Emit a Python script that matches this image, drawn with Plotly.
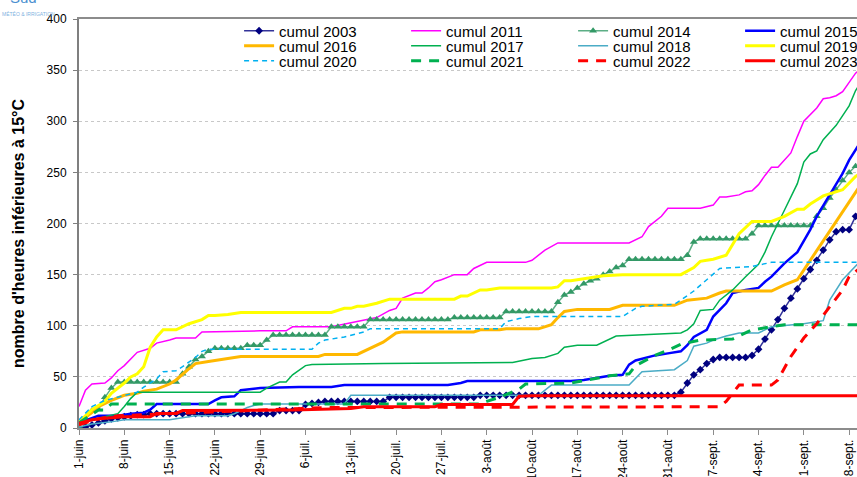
import plotly.graph_objects as go

# ---------------- data ----------------
tick_days = [0, 7, 14, 21, 28, 35, 42, 49, 56, 63, 70, 77, 84, 91, 98, 105, 112, 119]
tick_labels = ["1-juin", "8-juin", "15-juin", "22-juin", "29-juin", "6-juil.", "13-juil.",
               "20-juil.", "27-juil.", "3-août", "10-août", "17-août", "24-août", "31-août",
               "7-sept.", "14-sept.", "21-sept.", "28-sept."]

days_daily = list(range(122))

cumul_2003 = ([0, 1, 3, 5, 7, 9, 10, 11, 12, 13, 13] + [14] * 20 + [17] * 4 + [23, 24, 25]
              + [26] * 10 + [30] * 14 + [32] * 31 + [35, 44, 52, 57, 63, 67] + [69] * 5
              + [71, 77, 87, 96, 106, 117, 127, 136, 146, 155, 164, 174, 184, 192, 194, 194, 207, 215])

cumul_2014 = ([2, 8, 17, 18, 30, 39, 45] + [45] * 9 + [53, 60, 67, 70, 75] + [78] * 5 + [81] * 3
              + [86] + [91] * 9 + [99] * 6 + [106] * 13 + [108] * 8 + [114] * 8
              + [123, 130, 133, 137, 141, 144, 146, 150, 153, 157, 159] + [165] * 9 + [169, 182]
              + [185] * 8 + [190] + [198] * 9 + [207, 215, 225, 233, 242, 250, 256, 257])

days_2011 = [0, 1, 2, 4, 5, 6, 7, 9, 11, 12, 14, 15, 18, 19, 28, 32, 33, 39, 46, 48, 49, 50, 52, 53,
             54, 55, 56, 58, 60, 61, 63, 69, 70, 72, 74, 85, 87, 88, 90, 91, 96, 98, 99, 100, 102,
             103, 104, 105, 106, 107, 108, 110, 111, 112, 114, 115, 116, 117, 118, 119, 120, 121]
vals_2011 = [21, 37, 43, 44, 49, 56, 61, 74, 78, 83, 86, 88, 88, 94, 95, 95, 99, 99, 108, 115, 117,
             127, 132, 132, 137, 143, 145, 150, 150, 156, 162, 162, 164, 174, 181, 181, 187, 197, 207,
             215, 215, 218, 226, 226, 228, 231, 232, 238, 247, 255, 255, 269, 285, 300, 313, 322,
             323, 325, 329, 338, 347, 352]

days_2015 = [0, 2, 3, 6, 8, 10, 11, 12, 20, 21, 22, 24, 25, 28, 34, 39, 41, 57, 59, 60, 76, 78, 82,
             84, 85, 86, 89, 91, 93, 94, 95, 97, 98, 100, 101, 103, 105, 106, 107, 109, 111, 113,
             114, 116, 118, 119, 120, 121]
vals_2015 = [5, 10, 12, 12, 14, 15, 18, 23.5, 23.5, 27, 30, 31, 37, 39, 40, 40, 42, 42, 44, 46, 46,
             47, 51, 52, 62, 66, 71, 73, 75, 81, 89, 96, 109, 122, 132, 135, 137, 143, 148, 161, 172,
             194, 207, 228, 249, 262, 272, 282]

days_2016 = [0, 2, 3, 5, 7, 9, 10, 12, 14, 15, 17, 18, 20, 21, 23, 25, 37, 38, 43, 45, 47, 49, 50,
             61, 62, 65, 66, 71, 73, 74, 75, 77, 82, 84, 92, 94, 97, 99, 100, 107, 108, 109, 111,
             113, 115, 117, 119, 120, 121]
vals_2016 = [6, 15, 21, 27, 32, 34, 36, 38, 43, 47, 58, 63, 65, 66, 68, 70, 70, 72, 72, 78, 84, 93,
             94, 94, 96, 96, 97, 97, 101, 108, 114, 116, 116, 120, 120, 125, 127, 132, 134, 134,
             137, 140, 145, 164, 184, 203, 222, 231, 240]

days_2017 = [0, 2, 4, 6, 7, 8, 9, 28, 29, 31, 32, 33, 35, 36, 47, 67, 70, 72, 74, 75, 77, 80, 83,
             93, 94, 95, 96, 98, 99, 101, 103, 105, 106, 107, 109, 111, 112, 113, 114, 115, 117,
             119, 120, 121]
vals_2017 = [4, 8, 11, 14, 21, 29, 35, 35, 39, 45, 45, 52, 61, 62, 63, 64, 68, 69, 73, 79, 81, 81,
             90, 93, 96, 102, 115, 116, 125, 135, 148, 160, 172, 187, 213, 239, 260, 268, 271, 282,
             296, 315, 330, 340]

days_2018 = [0, 2, 5, 7, 14, 16, 18, 23, 24, 25, 26, 27, 28, 41, 42, 71, 73, 85, 87, 92, 94, 95,
             97, 98, 100, 102, 105, 107, 112, 115, 116, 118, 120, 121]
vals_2018 = [1, 4, 6, 8, 8, 10, 12, 12, 14, 17, 20, 22, 23.5, 23.5, 32, 32, 42, 42, 55, 57, 66, 80,
             83, 86, 90, 93, 93, 99, 102, 105, 125, 145, 158, 165]

days_2019 = [0, 2, 4, 5, 7, 8, 9, 10, 11, 12, 13, 15, 17, 18, 19, 20, 21, 23, 25, 39, 41, 42, 43,
             44, 46, 48, 58, 59, 60, 62, 63, 65, 73, 74, 75, 76, 78, 81, 84, 93, 95, 96, 97, 98,
             100, 102, 104, 107, 109, 111, 112, 113, 115, 117, 118, 120, 121]
vals_2019 = [6, 18, 26, 34, 44, 50, 53, 60, 79, 89, 96, 96, 102, 104, 106, 110, 110, 111, 113, 113,
             117, 117, 119, 119, 122, 126, 126, 129, 129, 135, 135, 137, 137, 138, 144, 144, 146,
             149, 150, 150, 157, 163, 164, 165, 169, 190, 202, 202, 207, 214, 214, 219, 227, 231,
             233, 246, 250]

days_2020 = [0, 2, 4, 7, 9, 10, 12, 13, 15, 16, 18, 19, 20, 36, 37, 38, 41, 44, 45, 65, 66, 68, 70,
             84, 86, 87, 92, 93, 95, 97, 98, 99, 104, 106, 107, 121]
vals_2020 = [8, 21, 27, 32, 35, 40, 48, 55, 56, 60, 69, 75, 77, 77, 83, 86, 89, 94, 97, 97, 104,
             107, 109, 109, 117, 119, 121, 125, 134, 145, 151, 156, 158, 161, 162, 162]

days_2021 = [0, 2, 3, 4, 5, 62, 63, 65, 67, 68, 69, 76, 82, 85, 86, 89, 91, 93, 96, 101, 104, 107,
             109, 121]
vals_2021 = [5, 14, 17.6, 17.6, 23.5, 23.5, 26, 30, 35, 38, 43, 44, 51, 53, 61, 71, 76, 82, 86, 87,
             96, 99, 101, 101]

days_2022 = [0, 3, 6, 10, 14, 22, 30, 38, 99, 100, 101, 102, 107, 108, 110, 112, 114, 116, 118,
             119, 121]
vals_2022 = [3, 9, 12, 13, 14, 16, 18, 20, 20.8, 26, 34, 42, 42, 47, 70, 88, 102, 119, 135, 148, 158]

days_2023 = [0, 2, 4, 7, 11, 12, 15, 16, 33, 42, 44, 55, 56, 67, 68, 70, 121]
vals_2023 = [4.6, 8, 9.5, 11, 11, 14.3, 14.3, 17, 17.6, 19, 20.8, 20.8, 23, 23, 31, 31.6, 31.6]

# ---------------- figure ----------------
FONT = "Arial, 'Liberation Sans', sans-serif"
fig = go.Figure()

def add(name, x, y, color, width, dash="solid", marker=None, legend="legend", lcolor=None, msize=6):
    kw = dict(x=x, y=y, name=name, legend=legend,
              line=dict(color=lcolor or color, width=width, dash=dash))
    if marker:
        kw["mode"] = "lines+markers"
        kw["marker"] = dict(symbol=marker, size=msize, color=color)
    else:
        kw["mode"] = "lines"
    fig.add_trace(go.Scatter(**kw))

add("cumul 2003", days_daily, cumul_2003, "#000080", 1.5, marker="diamond", lcolor="#333399", msize=6)
add("cumul 2011", days_2011, vals_2011, "#FF00FF", 1.5)
add("cumul 2014", days_daily, cumul_2014, "#339966", 1.5, marker="triangle-up", lcolor="#5CAE85", msize=7)
add("cumul 2015", days_2015, vals_2015, "#0000FF", 2.5)
add("cumul 2016", days_2016, vals_2016, "#FFB800", 3, legend="legend2")
add("cumul 2017", days_2017, vals_2017, "#00B050", 1.5, legend="legend2")
add("cumul 2018", days_2018, vals_2018, "#4BACC6", 1.5, legend="legend2")
add("cumul 2019", days_2019, vals_2019, "#FFFF00", 3, legend="legend2")
add("cumul 2020", days_2020, vals_2020, "#00B0F0", 1.5, dash="5px,4px", legend="legend3")
add("cumul 2021", days_2021, vals_2021, "#00B050", 3, dash="10px,8px", legend="legend3")
add("cumul 2022", days_2022, vals_2022, "#FF0000", 3, dash="10px,8px", legend="legend3")
add("cumul 2023", days_2023, vals_2023, "#FF0000", 3, legend="legend3")

W, H = 920, 520
L, T = 79, 19
plot_w = 121.3 * 6.468
plot_h = 409
R = W - L - plot_w
B = H - T - plot_h

def leg(ypix):
    return dict(orientation="h", x=(239 - L) / plot_w, xanchor="left",
                y=(T + plot_h - ypix) / plot_h, yanchor="middle",
                entrywidth=122, entrywidthmode="pixels",
                bgcolor="rgba(0,0,0,0)", borderwidth=0,
                font=dict(family=FONT, size=15, color="#000000"),
                itemwidth=30, traceorder="normal")

fig.update_layout(
    width=W, height=H,
    margin=dict(l=L, r=R, t=T, b=B, autoexpand=False),
    paper_bgcolor="white", plot_bgcolor="white",
    font=dict(family=FONT, size=12, color="#000000"),
    showlegend=True,
    legend=leg(31), legend2=leg(46), legend3=leg(61),
    xaxis=dict(range=[0, 121.3], tickmode="array", tickvals=tick_days, ticktext=tick_labels,
               tickangle=-90, showgrid=False, zeroline=False, showline=True, linecolor="#8C8C8C",
               linewidth=1.5, mirror=True, ticks="outside", ticklen=5, tickcolor="#8C8C8C",
               automargin=False, tickfont=dict(family=FONT, size=12, color="#000000")),
    yaxis=dict(range=[0, 400], tickmode="array", tickvals=[0, 50, 100, 150, 200, 250, 300, 350, 400],
               showgrid=True, gridcolor="#C8C8C8", griddash="dot", gridwidth=1, zeroline=False,
               showline=True, linecolor="#7F7F7F", linewidth=2, ticks="outside", ticklen=4,
               tickcolor="#7F7F7F", automargin=False, ticklabelstandoff=4,
               tickfont=dict(family=FONT, size=12, color="#000000")),
    annotations=[
        dict(text="<b>nombre d'heures inférieures à 15°C</b>", xref="paper", yref="paper",
             x=(18 - L) / plot_w, y=(T + plot_h - 233) / plot_h, xanchor="center", yanchor="middle",
             textangle=-90, showarrow=False, font=dict(family=FONT, size=16, color="#000000")),
        dict(text="Sud", xref="paper", yref="paper", x=(8 - L) / plot_w, y=(T + plot_h - 8) / plot_h,
             xanchor="left", yanchor="bottom", showarrow=False,
             font=dict(family=FONT, size=15, color="#4A8FD0")),
        dict(text="MÉTÉO & IRRIGATION", xref="paper", yref="paper", x=(0 - L) / plot_w,
             y=(T + plot_h - 14) / plot_h, xanchor="left", yanchor="middle", showarrow=False,
             font=dict(family=FONT, size=5, color="#7FB2E0")),
    ],
)

fig.write_html("out.html", config={"displayModeBar": False},
               post_script="document.body.style.margin='0';"
               "document.body.style.overflow='hidden';"
               "document.documentElement.style.overflow='hidden';")
